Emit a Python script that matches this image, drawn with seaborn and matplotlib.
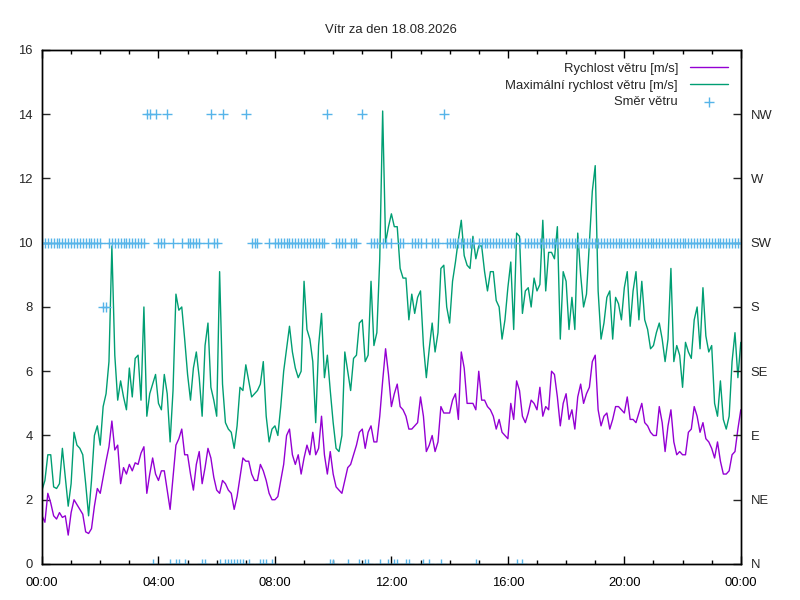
import numpy as np
import pandas as pd
import matplotlib
matplotlib.use("Agg")
import matplotlib.pyplot as plt
import seaborn as sns

# samples every 6 minutes, 00:00 .. 24:00
speed = [
    1.5, 1.3, 2.2, 1.9, 1.5, 1.4, 1.6, 1.45, 1.5, 0.9,
    1.6, 2.0, 1.85, 1.7, 1.55, 1.0, 0.95, 1.1, 1.8, 2.35,
    2.2, 2.7, 3.2, 3.65, 4.45, 3.55, 3.7, 2.5, 3.0, 2.8,
    3.1, 2.9, 3.15, 3.1, 3.45, 3.65, 2.2, 2.8, 3.3, 2.8,
    2.6, 2.9, 2.9, 2.3, 1.7, 2.7, 3.7, 3.9, 4.2, 3.4,
    3.4, 2.8, 2.3, 3.1, 3.5, 2.5, 3.0, 3.6, 3.3, 2.7,
    2.3, 2.2, 2.6, 2.5, 2.3, 2.2, 1.7, 2.1, 2.7, 3.3,
    3.2, 3.2, 2.8, 2.6, 2.6, 3.1, 2.9, 2.6, 2.2, 2.0,
    2.0, 2.1, 2.6, 3.1, 4.0, 4.2, 3.4, 3.1, 3.4, 2.8,
    3.3, 3.7, 3.4, 4.1, 3.4, 3.6, 4.6, 3.4, 2.8, 3.5,
    2.8, 2.4, 2.3, 2.2, 2.6, 3.0, 3.1, 3.4, 3.7, 4.1,
    4.2, 3.6, 4.1, 4.3, 3.8, 3.8, 4.6, 5.7, 6.7, 5.9,
    4.9, 5.3, 5.6, 4.9, 4.8, 4.6, 4.2, 4.2, 4.3, 4.4,
    5.2, 4.6, 3.5, 3.7, 4.0, 3.5, 3.8, 4.9, 4.7, 4.7,
    4.7, 5.1, 5.3, 4.5, 6.6, 6.1, 5.0, 5.0, 5.0, 4.8,
    6.0, 5.1, 5.1, 4.9, 4.8, 4.6, 4.2, 4.5, 4.1, 4.0,
    3.9, 5.0, 4.5, 5.7, 5.4, 4.6, 4.4, 4.7, 5.1, 5.0,
    4.8, 5.5, 4.6, 4.9, 4.8, 6.0, 5.9, 5.2, 4.3, 5.0,
    5.3, 4.5, 4.8, 4.2, 5.2, 5.6, 5.0, 5.3, 5.5, 6.3,
    6.5, 4.8, 4.3, 4.6, 4.7, 4.2, 4.5, 4.9, 4.9, 4.8,
    4.7, 5.2, 4.5, 4.5, 4.4, 4.7, 5.0, 4.4, 4.3, 4.1,
    4.0, 4.0, 4.9, 4.4, 3.5, 4.3, 4.8, 3.8, 3.4, 3.5,
    3.4, 3.4, 4.1, 4.2, 4.9, 4.6, 4.1, 4.4, 3.9, 3.8,
    3.6, 3.3, 3.8, 3.2, 2.8, 2.8, 2.9, 3.4, 3.5, 4.2,
    4.8,
]

gust = [
    2.3, 2.6, 3.4, 3.4, 2.4, 2.35, 2.5, 3.6, 2.7, 1.8,
    2.5, 4.1, 3.7, 3.6, 3.4, 2.5, 1.5, 2.6, 4.0, 4.3,
    3.7, 4.9, 5.3, 6.3, 9.9, 6.5, 5.1, 5.7, 5.2, 4.8,
    6.1, 5.2, 6.4, 6.5, 5.1, 8.0, 4.6, 5.3, 5.6, 5.9,
    5.0, 4.8, 5.9, 5.3, 3.8, 5.4, 8.4, 7.9, 8.0, 7.0,
    5.9, 5.1, 6.1, 6.6, 5.8, 4.6, 6.8, 7.5, 5.5, 5.1,
    4.6, 9.1, 5.6, 4.4, 4.2, 4.1, 3.6, 4.3, 5.5, 5.4,
    6.2, 5.7, 5.2, 5.3, 5.4, 5.6, 6.3, 4.6, 3.8, 4.2,
    4.3, 4.0, 4.9, 6.0, 6.7, 7.4, 6.6, 6.1, 5.8, 6.0,
    8.8, 7.3, 7.0, 6.3, 4.4, 6.8, 7.8, 5.8, 6.5, 5.4,
    4.4, 3.6, 3.5, 4.0, 6.6, 6.0, 5.4, 6.4, 6.5, 7.5,
    7.6, 6.3, 6.5, 8.8, 6.8, 7.2, 9.5, 14.1, 10.0, 10.5,
    10.9, 10.5, 10.5, 9.2, 8.9, 8.9, 7.6, 8.4, 7.8, 8.3,
    8.5, 6.8, 5.8, 6.7, 7.5, 6.6, 7.2, 9.2, 9.3, 8.0,
    7.5, 8.8, 9.4, 10.1, 10.7, 9.6, 9.3, 9.2, 10.2, 9.5,
    9.9, 9.9, 9.1, 8.5, 9.1, 9.1, 8.2, 8.0, 7.0, 7.6,
    8.6, 9.4, 7.3, 10.3, 10.2, 7.8, 8.5, 8.6, 8.0, 8.9,
    8.5, 8.7, 10.7, 8.5, 9.7, 9.7, 9.5, 10.5, 7.0, 9.1,
    8.8, 7.3, 8.3, 7.3, 10.3, 9.0, 8.0, 8.4, 10.0, 11.6,
    12.4, 8.5, 7.0, 7.5, 8.3, 8.5, 7.0, 8.3, 8.1, 7.6,
    8.6, 9.1, 7.4, 8.5, 9.1, 7.6, 8.8, 7.6, 7.3, 6.7,
    6.8, 7.2, 7.5, 7.0, 6.3, 7.0, 9.2, 6.3, 6.8, 6.5,
    5.5, 6.9, 6.6, 6.4, 7.6, 8.0, 6.7, 8.6, 7.1, 6.6,
    6.8, 5.0, 4.6, 5.7, 4.5, 4.2, 4.6, 6.3, 7.2, 5.8,
    6.9,
]

# wind direction per 6-minute slot, one string per hour
# w = SW, s = S, x = NW, n = N
dir_codes = [
    "wwwwwwwwww", "wwwwwwwwww", "wsswwwwwww", "wwwwwwxxnx",
    "wwwxnwnnwn", "wwwwwnnwxw", "wnxnnnnnnn", "xnwwwnnnwn",
    "wwwwwwwwww", "wwwwwwwwxn", "nwwwwnwwwn", "xnnwwwnwwn",
    "wnnwwnnwww", "wnwnwwwnxw", "wwwwwwwwwn", "wwwwwwwwww",
    "wwwnwnwwww", "wwwwwwwwww", "wwwwwwwwww", "wwwwwwwwww",
    "wwwwwwwwww", "wwwwwwwwww", "wwwwwwwwww", "wwwwwwwwww",
    "w",
]
code_deg = {"n": 0, "s": 180, "w": 225, "x": 315}

compass = ["N", "NE", "E", "SE", "S", "SW", "W", "NW"]
compass_deg = [0, 45, 90, 135, 180, 225, 270, 315]
hour_ticks = [0, 4, 8, 12, 16, 20, 24]
hour_labels = ["00:00", "04:00", "08:00", "12:00", "16:00", "20:00", "00:00"]

df = pd.DataFrame({"hour": np.arange(len(speed)) / 10, "speed": speed, "gust": gust})
codes = "".join(dir_codes)
wind_dir = pd.DataFrame({"hour": np.arange(len(codes)) / 10,
                         "deg": [code_deg[c] for c in codes]})

sns.set_style("ticks")
plt.rcParams["font.family"] = ["Liberation Sans", "DejaVu Sans"]
plt.rcParams["font.size"] = 9.4

fig, ax = plt.subplots(figsize=(8, 6), dpi=100)
fig.subplots_adjust(left=0.0525, right=0.926, bottom=0.06, top=0.9167)

sns.lineplot(data=df, x="hour", y="speed", ax=ax, color="#9400d3", lw=1,
             estimator=None, label="Rychlost větru [m/s]")
sns.lineplot(data=df, x="hour", y="gust", ax=ax, color="#009e73", lw=1,
             estimator=None, label="Maximální rychlost větru [m/s]")
if ax.get_legend():
    ax.get_legend().remove()

ax2 = ax.twinx()
sns.scatterplot(data=wind_dir, x="hour", y="deg", ax=ax2, marker="+", s=50,
                color="#56b4e9", linewidth=1, label="Směr větru")
if ax2.get_legend():
    ax2.get_legend().remove()

ax.set_xlim(0, 24)
ax.set_ylim(0, 16)
ax2.set_ylim(0, 360)
ax.set_xticks(hour_ticks)
ax.set_xticklabels(hour_labels)
ax.set_xticks(range(25), minor=True)
ax.set_yticks(range(0, 17, 2))
ax2.set_yticks(compass_deg)
ax2.set_yticklabels(compass)
ax.set_xlabel("")
ax.set_ylabel("")
ax2.set_ylabel("")

ax.tick_params(axis="x", which="both", direction="in", top=True, pad=9.5, colors="black")
ax.tick_params(axis="x", which="major", length=6, width=1)
ax.tick_params(axis="x", which="minor", length=3, width=1)
ax.tick_params(axis="y", direction="in", length=6, width=1, right=False, pad=6.5)
ax2.tick_params(axis="y", direction="in", length=6, width=1, left=False, pad=7)
for a in (ax, ax2):
    for sp in a.spines.values():
        sp.set_visible(True)
        sp.set_color("black")
        sp.set_linewidth(1)

ax.set_title("Vítr za den 18.08.2026", fontsize=9.4, pad=12.5)

h1, l1 = ax.get_legend_handles_labels()
h2, l2 = ax2.get_legend_handles_labels()
ax2.legend(h1 + h2, l1 + l2, loc="upper right", bbox_to_anchor=(0.981, 0.975),
           frameon=False, markerfirst=False, handlelength=2.85, handletextpad=0.95,
           labelspacing=0.35, borderaxespad=0, borderpad=0)

fig.savefig("out.png", dpi=100)
